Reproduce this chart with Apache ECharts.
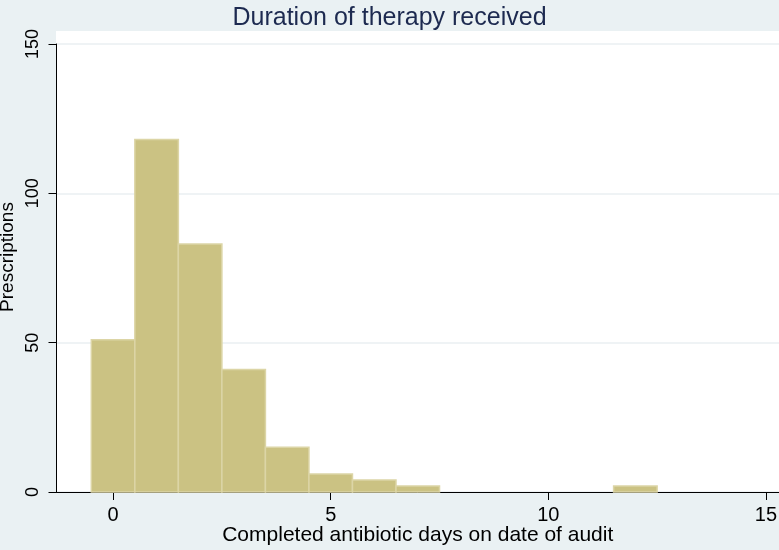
<!DOCTYPE html>
<html>
<head>
<meta charset="utf-8">
<script src="https://cdn.jsdelivr.net/npm/echarts@6/dist/echarts.min.js"></script>
<style>html,body{margin:0;padding:0;background:#eaf1f3;}#c{width:779px;height:550px;}</style>
</head>
<body>
<div id="c"></div>
<script>
const binCenters = [0, 1, 2, 3, 4, 5, 6, 7, 12];
const counts = [51, 118, 83, 41, 15, 6, 4, 2, 2];
const xTicks = [0, 5, 10, 15];
const yTicks = [0, 50, 100, 150];
const titleText = 'Duration of therapy received';
const xTitle = 'Completed antibiotic days on date of audit';
const yTitle = 'Prescriptions';

const font = '"Liberation Sans", Arial, Helvetica, sans-serif';
const chart = echarts.init(document.getElementById('c'), null, {renderer: 'canvas'});
const data = binCenters.map((c, i) => [c - 0.5, c + 0.5, counts[i]]);

chart.setOption({
  backgroundColor: '#eaf1f3',
  animation: false,
  title: {
    text: titleText, left: 'center', top: 1,
    textStyle: {fontFamily: font, fontSize: 25, fontWeight: 'normal', color: '#1d2a50'}
  },
  graphic: [{
    type: 'rect', z: -10, silent: true,
    shape: {x: 56, y: 31, width: 723, height: 461},
    style: {fill: '#ffffff'}
  }],
  grid: {left: 56.5, right: 0, top: 44, bottom: 58, containLabel: false, outerBoundsMode: 'none'},
  xAxis: {
    type: 'value', min: -1.3, max: 15.3, interval: 5,
    name: xTitle, nameLocation: 'middle', nameGap: 33, nameMoveOverlap: false,
    nameTextStyle: {fontFamily: font, fontSize: 21, color: '#000'},
    axisLine: {show: true, onZero: false, lineStyle: {color: '#000', width: 1}},
    axisTick: {show: true, length: 8, lineStyle: {color: '#000'}, customValues: xTicks},
    axisLabel: {fontFamily: font, fontSize: 20, color: '#000', margin: 13, customValues: xTicks,
      showMinLabel: true, showMaxLabel: true},
    splitLine: {show: false}
  },
  yAxis: {
    type: 'value', min: 0, max: 150, interval: 50,
    name: yTitle, nameLocation: 'middle', nameGap: 39, nameRotate: 90, nameMoveOverlap: false,
    nameTextStyle: {fontFamily: font, fontSize: 19, color: '#000', padding: [0, 0, 0, 22]},
    axisLine: {show: true, onZero: false, lineStyle: {color: '#000', width: 1}},
    axisTick: {show: true, length: 8, lineStyle: {color: '#000'}, customValues: yTicks},
    axisLabel: {fontFamily: font, fontSize: 18, color: '#000', rotate: 90, margin: 23,
      verticalAlign: 'middle', align: 'center', customValues: yTicks},
    splitLine: {show: true, lineStyle: {color: '#eaeff2', width: 1.5}}
  },
  series: [{
    type: 'custom',
    data: data,
    encode: {x: [0, 1], y: 2},
    renderItem: function (params, api) {
      const p0 = api.coord([api.value(0), 0]);
      const p1 = api.coord([api.value(1), api.value(2)]);
      return {
        type: 'rect',
        shape: {x: p0[0], y: p1[1], width: p1[0] - p0[0], height: p0[1] - p1[1]},
        style: {fill: '#cbc283', stroke: '#dcd5a6', lineWidth: 1.5}
      };
    }
  }]
});
</script>
</body>
</html>
